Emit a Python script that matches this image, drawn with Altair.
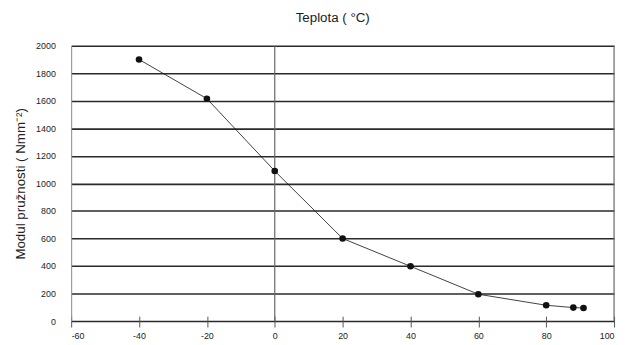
import altair as alt
import pandas as pd

temps = [-40, -20, 0, 20, 40, 60, 80, 88, 91]
modulus = [1900, 1615, 1090, 600, 398, 195, 115, 98, 95]
x_ticks = [-60, -40, -20, 0, 20, 40, 60, 80, 100]
y_ticks = [0, 200, 400, 600, 800, 1000, 1200, 1400, 1600, 1800, 2000]
vlines = [0, 100]

df = pd.DataFrame({"t": temps, "e": modulus})
vl = pd.DataFrame({"v": vlines})

FONT = "Liberation Sans"

xscale = alt.Scale(domain=[-60, 100], nice=False, zero=False)
yscale = alt.Scale(domain=[0, 2000], nice=False)

xaxis = alt.Axis(values=x_ticks, title=None, grid=False, domain=False,
                 tickSize=11, offset=-5, tickColor="#555555", tickWidth=1,
                 labelFont=FONT, labelFontSize=9, labelColor="#222222",
                 labelPadding=5, labelOverlap=False, labelExpr="'' + datum.value")
yaxis = alt.Axis(values=y_ticks, title="Modul pružnosti ( Nmm⁻²)",
                 grid=True, gridColor="#2a2a2a", gridWidth=1.6,
                 ticks=False, domain=True, domainColor="#888888",
                 labelFont=FONT, labelFontSize=9, labelColor="#222222",
                 labelPadding=16, labelOverlap=False, labelExpr="'' + datum.value",
                 titleFont=FONT, titleFontSize=13.5,
                 titleFontWeight="normal", titleColor="#222222",
                 titlePadding=8)

base = alt.Chart(df)

line = base.mark_line(color="#111111", strokeWidth=0.8).encode(
    x=alt.X("t:Q", scale=xscale, axis=xaxis),
    y=alt.Y("e:Q", scale=yscale, axis=yaxis),
)

pts = base.mark_circle(color="#111111", size=45, opacity=1).encode(
    x=alt.X("t:Q", scale=xscale, axis=xaxis),
    y=alt.Y("e:Q", scale=yscale, axis=yaxis),
)

rules = alt.Chart(vl).mark_rule(color="#666666", strokeWidth=1.2).encode(
    x=alt.X("v:Q", scale=xscale, axis=xaxis)
)

chart = alt.layer(rules, line, pts).properties(
    width=550,
    height=279,
    padding={"left": 64, "top": 36, "right": 4, "bottom": 20},
    autosize=alt.AutoSizeParams(type="none"),
    title=alt.TitleParams("Teplota ( °C)", font=FONT, fontSize=13.5, fontWeight="normal",
                          color="#222222", anchor="middle", offset=18, dx=-10),
).configure_view(stroke=None)

chart.save("out.html", embed_options={"renderer": "svg", "actions": False})
